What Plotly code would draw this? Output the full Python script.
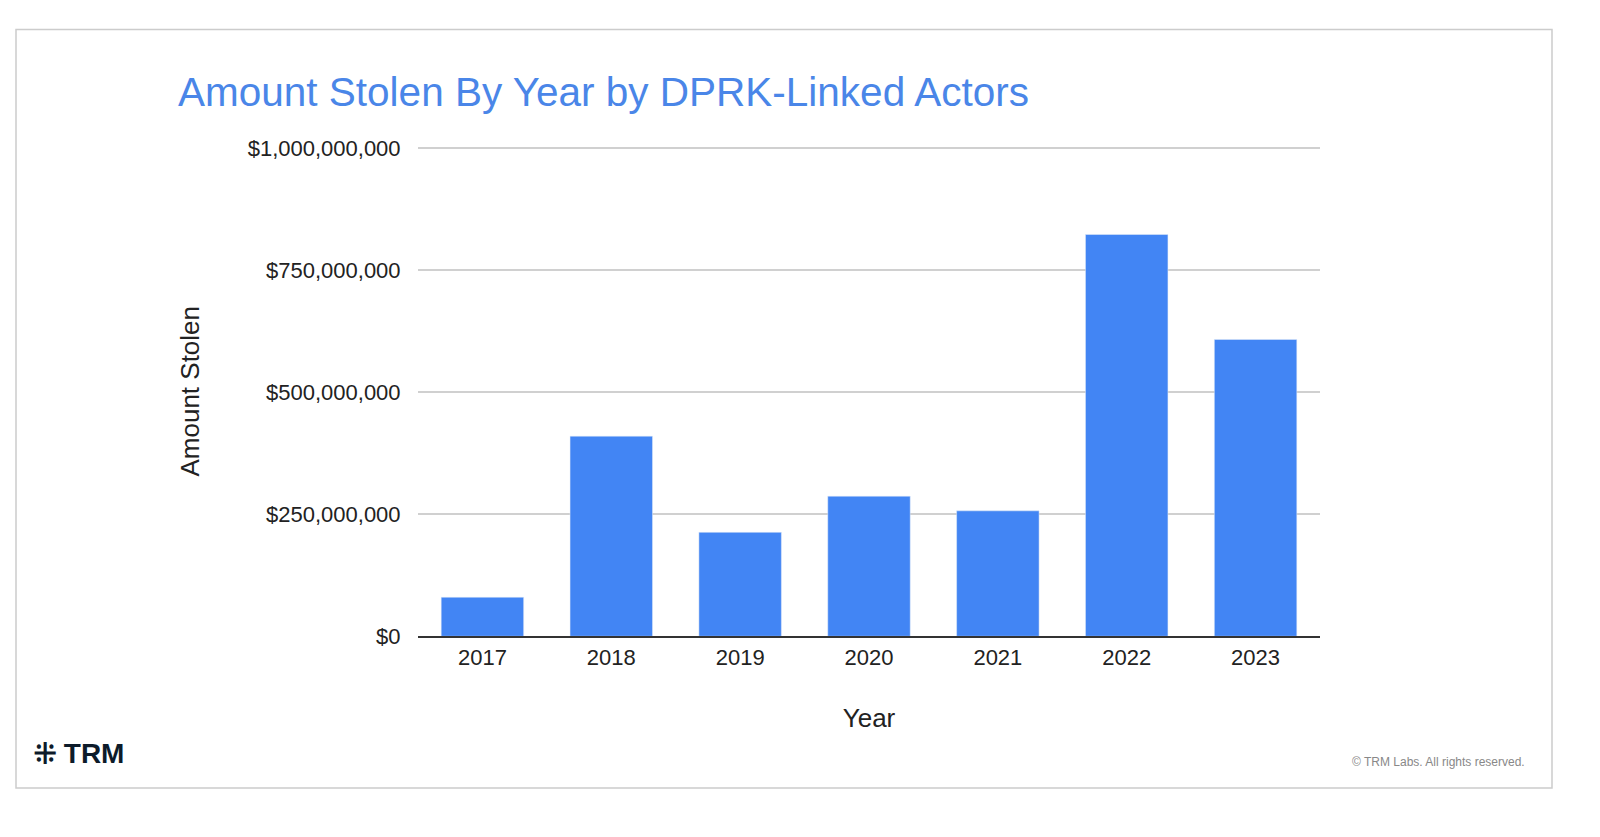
import plotly.graph_objects as go

years = ["2017", "2018", "2019", "2020", "2021", "2022", "2023"]
amounts = [80e6, 410e6, 213e6, 287e6, 257e6, 823e6, 608e6]
tick_vals = [0, 250e6, 500e6, 750e6, 1000e6]
tick_text = ["$0", "$250,000,000", "$500,000,000", "$750,000,000", "$1,000,000,000"]

fig = go.Figure(go.Bar(x=years, y=amounts, marker_color="#4285f4", width=0.64))
fig.update_layout(
    width=1600, height=837, paper_bgcolor="white", plot_bgcolor="white",
    margin=dict(l=0, r=0, t=0, b=0),
    font=dict(family="Liberation Sans, Arial", color="#222", size=22),
    showlegend=False,
    xaxis=dict(domain=[418/1600, 1320/1600], title=dict(text="Year", standoff=40), tickfont=dict(size=22),
               showline=True, linecolor="#333", linewidth=2, ticks="", ticklen=6),
    yaxis=dict(domain=[1-644/837, 1-140/837], range=[0, 1004e6], tickvals=tick_vals, ticktext=tick_text,
               gridcolor="#d0d0d0", gridwidth=1.5, zeroline=False, ticklen=12, ticks="outside", tickcolor="white",
               title=dict(text="Amount Stolen", standoff=40), tickfont=dict(size=22)),
    shapes=[dict(type="rect", xref="paper", yref="paper", x0=16/1600, x1=1552/1600, y0=1-800/837, y1=1-20/837,
                 line=dict(color="#cccccc", width=1.5))],
    annotations=[
        dict(text="Amount Stolen By Year by DPRK-Linked Actors", xref="paper", yref="paper", x=176/1600, y=1-84/837,
             xanchor="left", yanchor="middle", showarrow=False, font=dict(size=40.5, color="#4a86e8")),
        dict(text="<b>⁜ TRM</b>", xref="paper", yref="paper", x=32/1600, y=1-764/837, xanchor="left", yanchor="middle",
             showarrow=False, font=dict(size=28, color="#0d1b2a")),
        dict(text="© TRM Labs. All rights reserved.", xref="paper", yref="paper", x=1527/1600, y=1-773/837,
             xanchor="right", yanchor="middle", showarrow=False, font=dict(size=12, color="#888")),
    ],
)
fig.write_html("out.html", config={"displayModeBar": False},
               post_script="document.body.style.margin='0';document.body.style.overflow='hidden';")
